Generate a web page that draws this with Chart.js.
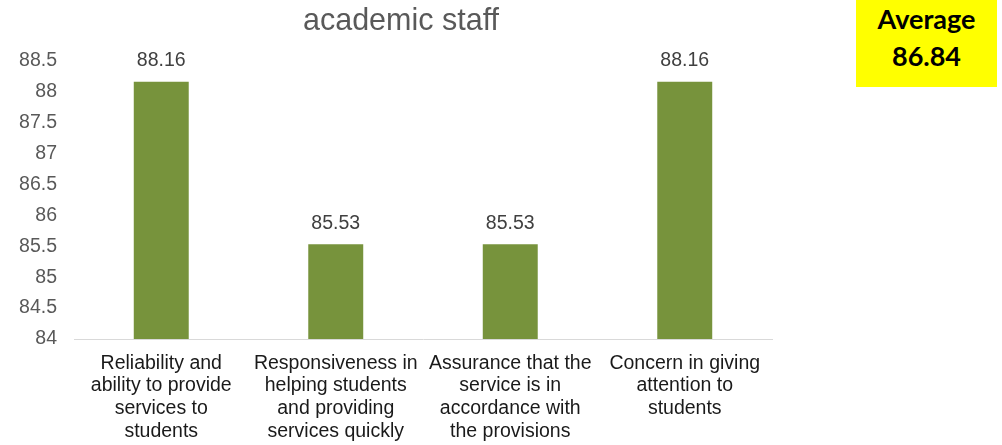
<!DOCTYPE html>
<html>
<head>
<meta charset="utf-8">
<script src="https://cdn.jsdelivr.net/npm/chart.js@4"></script>
<style>
  body { margin: 0; background: #fff; }
  #wrap { position: relative; width: 1002px; height: 445px; }
  #chartBox { position: absolute; left: 0; top: 0; width: 802px; height: 445px; }
  #avg {
    position: absolute; left: 856px; top: 0; width: 141px; height: 87px;
    background: #ffff00; color: #000; text-align: center;
    font-family: Lato, "Open Sans", sans-serif; font-weight: bold;
    font-size: 27px; line-height: 37px; padding-top: 0px; box-sizing: border-box;
  }
</style>
</head>
<body>
<div id="wrap">
  <div id="chartBox"><canvas id="myChart"></canvas></div>
  <div id="avg">Average<br>86.84</div>
</div>
<script>
const categories = [
    ["Reliability and", "ability to provide", "services to", "students"],
    ["Responsiveness in", "helping students", "and providing", "services quickly"],
    ["Assurance that the", "service is in", "accordance with", "the provisions"],
    ["Concern in giving", "attention to", "students"]
];
const scores = [88.16, 85.53, 85.53, 88.16];
const yMin = 84;
const yMax = 88.5;
const yStep = 0.5;

const FONT = '"Liberation Sans", Arial, sans-serif';

// draws the value above each bar
const valueLabels = {
    id: 'valueLabels',
    afterDatasetsDraw(chart) {
        const ctx = chart.ctx;
        const meta = chart.getDatasetMeta(0);
        ctx.save();
        ctx.font = '19.5px ' + FONT;
        ctx.fillStyle = '#404040';
        ctx.textAlign = 'center';
        ctx.textBaseline = 'middle';
        meta.data.forEach((bar, i) => {
            ctx.fillText(scores[i].toFixed(2), bar.x, bar.y - 21);
        });
        ctx.restore();
    }
};

function renderChart() {
    let ctx = document.getElementById("myChart").getContext('2d');
    let myChart = new Chart(ctx, {
        type: 'bar',
        data: {
            labels: categories,
            datasets: [{
                label: 'academic staff',
                data: scores,
                backgroundColor: '#77933C',
                categoryPercentage: 1,
                barPercentage: 0.315
            }]
        },
        options: {
            maintainAspectRatio: false,
            responsive: true,
            animation: false,
            layout: { padding: 0 },
            plugins: {
                legend: { display: false },
                tooltip: { enabled: false },
                title: {
                    display: true,
                    text: 'academic staff',
                    color: '#595959',
                    font: { family: FONT, size: 30.5, weight: 'normal' },
                    padding: { top: 3, bottom: 21 }
                }
            },
            scales: {
                x: {
                    grid: { display: false, drawTicks: false },
                    border: { display: true, color: '#d9d9d9', width: 1 },
                    ticks: {
                        color: '#1a1a1a',
                        padding: 13,
                        maxRotation: 0,
                        autoSkip: false,
                        font: { family: FONT, size: 19.5, lineHeight: 1.16 }
                    },
                    afterFit(scale) { scale.height = 106; }
                },
                y: {
                    min: yMin,
                    max: yMax,
                    grid: { display: false, drawTicks: false },
                    border: { display: false },
                    ticks: {
                        stepSize: yStep,
                        color: '#595959',
                        padding: 17,
                        font: { family: FONT, size: 19.5 },
                        callback: (v) => String(Math.round(v * 10) / 10)
                    },
                    afterFit(scale) { scale.width = 74; }
                },
                // empty right-hand spacer so the title stays centred on the canvas
                spacer: {
                    type: 'linear',
                    position: 'right',
                    min: yMin,
                    max: yMax,
                    grid: { display: false, drawTicks: false },
                    border: { display: false },
                    ticks: { display: false },
                    afterFit(scale) { scale.width = 30; }
                }
            }
        },
        plugins: [valueLabels]
    });
}

renderChart();
</script>
</body>
</html>
